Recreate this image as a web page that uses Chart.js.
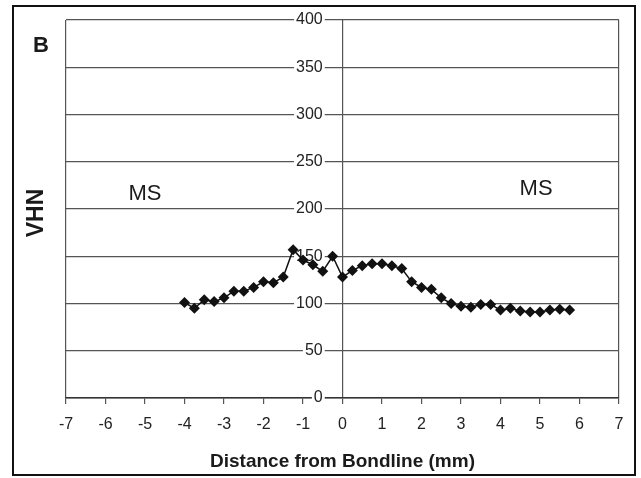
<!DOCTYPE html>
<html>
<head>
<meta charset="utf-8">
<script src="https://cdn.jsdelivr.net/npm/chart.js@4/dist/chart.umd.min.js"></script>
<style>
  html, body { margin: 0; padding: 0; background: #fff; }
  #wrap { position: relative; width: 641px; height: 478px; }
  #frame { position: absolute; left: 12px; top: 5px; width: 620px; height: 467px; border: 2px solid #111; pointer-events: none; }
</style>
</head>
<body>
<div id="wrap">
  <canvas id="hardnessChart" width="641" height="478"></canvas>
  <div id="frame"></div>
</div>
<script>
// distance from bondline (mm) and hardness (VHN)
const distance = [-4.0, -3.75, -3.5, -3.25, -3.0, -2.75, -2.5, -2.25, -2.0, -1.75,
                  -1.5, -1.25, -1.0, -0.75, -0.5, -0.25, 0.0, 0.25, 0.5, 0.75,
                  1.0, 1.25, 1.5, 1.75, 2.0, 2.25, 2.5, 2.75, 3.0, 3.25,
                  3.5, 3.75, 4.0, 4.25, 4.5, 4.75, 5.0, 5.25, 5.5, 5.75];
const vhn = [101, 95, 104, 102, 106, 113, 113, 117, 123, 122,
             128, 157, 146, 141, 134, 150, 128, 135, 140, 142,
             142, 140, 137, 123, 117, 115, 106, 100, 97, 96,
             99, 99, 93, 95, 92, 91, 91, 93, 94, 93];
const xTicks = [-7, 7, 1];
const yTicks = [0, 400, 50];
const zoneLabels = [
  { text: 'MS', x: -5.0, y: 216 },
  { text: 'MS', x: 4.9, y: 221 }
];

const FONT = '"Liberation Sans", Arial, sans-serif';

// free text: panel letter, zone labels, y title
const textPlugin = {
  id: 'textPlugin',
  afterDraw(chart) {
    const ctx = chart.ctx;
    const xs = chart.scales.x, ys = chart.scales.y;
    ctx.save();
    ctx.fillStyle = '#1a1a1a';
    ctx.textAlign = 'center';
    ctx.textBaseline = 'middle';
    ctx.font = 'bold 22px ' + FONT;
    ctx.fillText('B', 41, 46);
    ctx.font = '22px ' + FONT;
    zoneLabels.forEach(z => {
      ctx.fillText(z.text, xs.getPixelForValue(z.x), ys.getPixelForValue(z.y));
    });
    ctx.translate(37, 213);
    ctx.rotate(-Math.PI / 2);
    ctx.font = 'bold 23px ' + FONT;
    ctx.fillText('VHN', 0, 0);
    ctx.restore();
  }
};

const edgeVals = [xTicks[0], 0, xTicks[1]];

const ctx = document.getElementById('hardnessChart').getContext('2d');
const chart = new Chart(ctx, {
  type: 'line',
  data: {
    datasets: [{
      data: distance.map((d, i) => ({ x: d, y: vhn[i] })),
      borderColor: '#111',
      borderWidth: 1.5,
      backgroundColor: '#111',
      pointStyle: 'rectRot',
      pointRadius: 5.5,
      pointBorderWidth: 0,
      tension: 0
    }]
  },
  options: {
    responsive: false,
    animation: false,
    layout: { padding: { left: 66, right: 22, top: 20, bottom: 5 } },
    plugins: {
      legend: { display: false },
      tooltip: { enabled: false }
    },
    scales: {
      x: {
        type: 'linear',
        min: xTicks[0],
        max: xTicks[1],
        ticks: {
          stepSize: xTicks[2],
          color: '#222',
          padding: 11,
          font: { family: FONT, size: 16 }
        },
        grid: {
          color: c => edgeVals.includes(c.tick && c.tick.value) ? '#555' : 'rgba(0,0,0,0)',
          tickColor: '#555',
          tickLength: 6,
          lineWidth: 1.2
        },
        border: { display: true, color: '#333', width: 1.5 },
        title: {
          display: true,
          text: 'Distance from Bondline (mm)',
          color: '#1a1a1a',
          font: { family: FONT, size: 19, weight: 'bold' },
          padding: { top: 5, bottom: 0 }
        }
      },
      y: {
        min: yTicks[0],
        max: yTicks[1],
        position: { x: -0.5 },
        ticks: {
          stepSize: yTicks[2],
          color: '#222',
          font: { family: FONT, size: 16 },
          showLabelBackdrop: true,
          backdropColor: '#fff',
          backdropPadding: { left: 2, right: 2, top: 0, bottom: 0 }
        },
        grid: { color: '#555', lineWidth: 1.2, drawTicks: false },
        border: { display: false }
      }
    }
  },
  plugins: [textPlugin]
});
</script>
</body>
</html>
